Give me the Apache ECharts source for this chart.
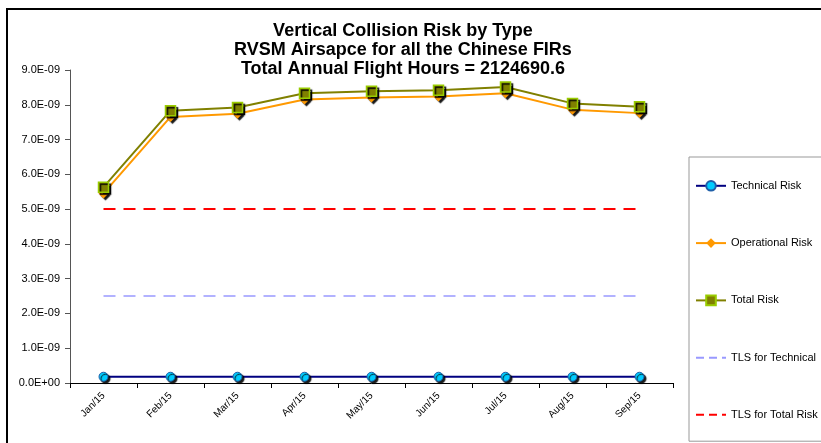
<!DOCTYPE html>
<html>
<head>
<meta charset="utf-8">
<script src="https://cdn.jsdelivr.net/npm/echarts@6/dist/echarts.min.js"></script>
<style>
  html, body { margin: 0; padding: 0; background: #fff; }
  #main { width: 821px; height: 443px; }
</style>
</head>
<body>
<div id="main"></div>
<script>
var months = ['Jan/15', 'Feb/15', 'Mar/15', 'Apr/15', 'May/15', 'Jun/15', 'Jul/15', 'Aug/15', 'Sep/15'];
var technicalRisk = [1.8e-10, 1.8e-10, 1.8e-10, 1.8e-10, 1.8e-10, 1.8e-10, 1.8e-10, 1.8e-10, 1.8e-10];
var operationalRisk = [5.45e-9, 7.65e-9, 7.74e-9, 8.15e-9, 8.21e-9, 8.24e-9, 8.33e-9, 7.86e-9, 7.76e-9];
var totalRisk = [5.63e-9, 7.83e-9, 7.92e-9, 8.33e-9, 8.39e-9, 8.42e-9, 8.51e-9, 8.04e-9, 7.94e-9];
var tlsTechnical = [2.5e-9, 2.5e-9, 2.5e-9, 2.5e-9, 2.5e-9, 2.5e-9, 2.5e-9, 2.5e-9, 2.5e-9];
var tlsTotal = [5e-9, 5e-9, 5e-9, 5e-9, 5e-9, 5e-9, 5e-9, 5e-9, 5e-9];

// 9.0E-09 style labels like the spreadsheet
function sciLabel(v) {
  var s = Number(v).toExponential(1).split('e');
  var exp = parseInt(s[1], 10);
  var sign = exp < 0 ? '-' : '+';
  var e = Math.abs(exp);
  return s[0] + 'E' + sign + (e < 10 ? '0' + e : e);
}

var chart = echarts.init(document.getElementById('main'), null, { renderer: 'canvas' });

var shadow = { shadowColor: 'rgba(0,0,0,0.9)', shadowOffsetX: 2, shadowOffsetY: 2, shadowBlur: 1 };

var option = {
  backgroundColor: '#fff',
  animation: false,
  textStyle: { fontFamily: 'Liberation Sans, Arial, sans-serif' },
  graphic: [{
    type: 'rect',
    shape: { x: 7, y: 9, width: 830, height: 450 },
    style: { fill: 'none', stroke: '#000', lineWidth: 2 },
    silent: true
  }],
  title: {
    text: 'Vertical Collision Risk by Type\nRVSM Airsapce for all the Chinese FIRs\nTotal Annual Flight Hours = 2124690.6',
    left: 398,
    textAlign: 'center',
    top: 17,
    textStyle: { fontSize: 18, fontWeight: 'bold', color: '#000', lineHeight: 19 }
  },
  legend: {
    orient: 'vertical',
    left: 689,
    top: 157,
    width: 140,
    padding: [23, 20, 21, 6],
    itemGap: 46,
    itemWidth: 30,
    itemHeight: 12,
    borderColor: '#999',
    borderWidth: 1,
    textStyle: { fontSize: 11, color: '#000' },
    data: [
      'Technical Risk',
      'Operational Risk',
      'Total Risk',
      { name: 'TLS for Technical', itemStyle: { opacity: 0 }, lineStyle: { type: [8, 5] } },
      { name: 'TLS for Total Risk', itemStyle: { opacity: 0 }, lineStyle: { type: [8, 5] } }
    ]
  },
  grid: { left: 70, right: 148, top: 70, bottom: 60, containLabel: false },
  xAxis: {
    type: 'category',
    data: months,
    boundaryGap: true,
    axisLine: { lineStyle: { color: '#000', width: 1 } },
    axisTick: { show: true, alignWithLabel: false, length: 5, lineStyle: { color: '#000' } },
    axisLabel: { rotate: 45, fontSize: 10, color: '#000', margin: 11, interval: 0 }
  },
  yAxis: {
    type: 'value',
    min: 0,
    max: 9e-9,
    interval: 1e-9,
    splitLine: { show: false },
    axisLine: { show: true, lineStyle: { color: '#555' } },
    axisTick: { show: true, length: 5, lineStyle: { color: '#555' } },
    axisLabel: { fontSize: 11, color: '#000', formatter: sciLabel, margin: 10 }
  },
  series: [
    {
      name: 'Technical Risk',
      type: 'line',
      data: technicalRisk,
      symbol: 'circle',
      symbolSize: 9,
      lineStyle: { color: '#000080', width: 2 },
      itemStyle: Object.assign({ color: '#00ccff', borderColor: '#1f5fa8', borderWidth: 1 }, shadow),
      z: 5
    },
    {
      name: 'Operational Risk',
      type: 'line',
      data: operationalRisk,
      symbol: 'diamond',
      symbolSize: 10,
      lineStyle: { color: '#ff9900', width: 2 },
      itemStyle: Object.assign({ color: '#ff9900', borderColor: '#ff9900', borderWidth: 0 }, shadow),
      z: 4
    },
    {
      name: 'Total Risk',
      type: 'line',
      data: totalRisk,
      symbol: 'rect',
      symbolSize: 10,
      lineStyle: { color: '#808000', width: 2 },
      itemStyle: Object.assign({ color: '#808000', borderColor: '#99cc00', borderWidth: 1.5 }, shadow),
      z: 4
    },
    {
      name: 'TLS for Technical',
      type: 'line',
      data: tlsTechnical,
      symbol: 'none',
      lineStyle: { color: '#9999ff', width: 1.5, type: [12, 8] },
      itemStyle: { color: '#9999ff' },
      z: 3
    },
    {
      name: 'TLS for Total Risk',
      type: 'line',
      data: tlsTotal,
      symbol: 'none',
      lineStyle: { color: '#ff0000', width: 2, type: [12, 8] },
      itemStyle: { color: '#ff0000' },
      z: 3
    }
  ]
};

chart.setOption(option);
</script>
</body>
</html>
